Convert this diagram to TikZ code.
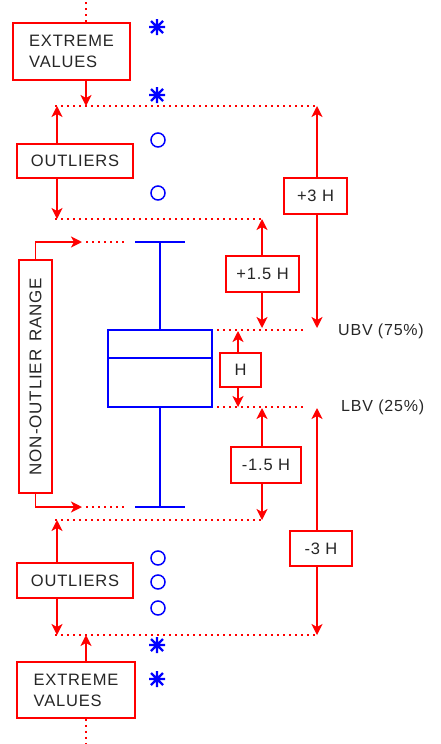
\documentclass[tikz,border=0pt]{standalone}
\usepackage{fontspec}
\setmainfont{Liberation Sans}
\newfontfamily\lbl{Liberation Sans}[LetterSpace=5]
\usetikzlibrary{arrows.meta}
\definecolor{rd}{RGB}{255,0,0}
\definecolor{bl}{RGB}{0,0,255}
\begin{document}
\begin{tikzpicture}[x=1pt,y=-1pt,
 rbox/.style={draw=rd, line width=1.6pt, fill=white, inner sep=0pt, font=\lbl\fontsize{16.5}{21}\selectfont, align=left, text=black!85},
 arr/.style={draw=rd, line width=1.6pt, -{Stealth[length=11pt,width=11pt,inset=3pt]}},
 dots/.style={draw=rd, line width=2pt, dash pattern=on 2pt off 4pt},
 bline/.style={draw=bl, line width=1.6pt},
 circ/.style={circle, draw=bl, line width=1.5pt, minimum size=14pt, inner sep=0pt},
 lbltext/.style={font=\lbl\fontsize{16}{20}\selectfont, text=black!85, anchor=west, inner sep=0pt},
 astr/.pic={\draw[bl, line width=2.4pt] (-8,0)--(8,0) (0,-8)--(0,8) (-6,-6)--(6,6) (-6,6)--(6,-6);}
]
\useasboundingbox (0,0) rectangle (440,744);

% coordinates (line ends)
\coordinate (topEnd) at (86,0);
\coordinate (botEnd) at (86,744);
\coordinate (L1) at (55,106);  \coordinate (R1) at (317,106);
\coordinate (e1tip) at (86,106); \coordinate (o1up) at (57,106);
\coordinate (L2) at (55,219);  \coordinate (R2) at (262,219);
\coordinate (o1dn) at (57,219);
\coordinate (L3) at (55,520);  \coordinate (R3) at (262,520);
\coordinate (o2up) at (57,520);
\coordinate (L4) at (55,635);  \coordinate (R4) at (317,635);
\coordinate (o2dn) at (57,635); \coordinate (e2tip) at (86,635);
\coordinate (ubvL) at (217,330); \coordinate (ubvR) at (305,330);
\coordinate (lbvL) at (217,407); \coordinate (lbvR) at (305,407);
\coordinate (p3dn) at (317,328); \coordinate (p15dn) at (262,328);
\coordinate (hup) at (238,331); \coordinate (hdn) at (238,407);
\coordinate (m15up) at (262,408); \coordinate (m3up) at (317,408);
\coordinate (ntip) at (82,242); \coordinate (btip) at (82,507);
\coordinate (ndL) at (86,242); \coordinate (ndR) at (126,242);
\coordinate (bdL) at (86,507); \coordinate (bdR) at (126,507);
\coordinate (wt) at (160,242); \coordinate (wb) at (160,507);
\coordinate (med) at (160,358);

% dotted reference lines
\draw[dots] (L1) -- (R1);
\draw[dots] (L2) -- (R2);
\draw[dots] (L3) -- (R3);
\draw[dots] (L4) -- (R4);
\draw[dots] (ubvL) -- (ubvR);
\draw[dots] (lbvL) -- (lbvR);
\draw[dots] (ndL) -- (ndR);
\draw[dots] (bdL) -- (bdR);

% red boxes
\node[rbox, minimum width=117pt, minimum height=57pt] (ext1) at (71.5,51.5) {EXTREME\\VALUES};
\node[rbox, minimum width=116pt, minimum height=34pt] (out1) at (75,161) {OUTLIERS};
\node[rbox, minimum width=233pt, minimum height=33pt, rotate=90, align=center, font=\lbl\fontsize{17}{20}\selectfont] (nor) at (35.5,376.5) {NON-OUTLIER\hspace{8pt}RANGE};
\node[rbox, minimum width=116pt, minimum height=35pt] (out2) at (75,580.5) {OUTLIERS};
\node[rbox, minimum width=118pt, minimum height=56pt] (ext2) at (76,690) {EXTREME\\VALUES};
\node[rbox, minimum width=63pt, minimum height=36pt] (p3) at (315.5,196) {+3 H};
\node[rbox, minimum width=73pt, minimum height=36pt] (p15) at (262.5,274) {+1.5 H};
\node[rbox, minimum width=41pt, minimum height=34pt] (hb) at (240.5,370) {H};
\node[rbox, minimum width=70pt, minimum height=36pt] (m15) at (266,465) {-1.5 H};
\node[rbox, minimum width=62pt, minimum height=35pt] (m3) at (321,548.5) {-3 H};

% arrows
\draw[dots] (ext1.north -| topEnd) -- (topEnd);
\draw[dots] (ext2.south -| botEnd) -- (botEnd);
\draw[arr] (ext1.south -| e1tip) -- (e1tip);
\draw[arr] (out1.north -| o1up) -- (o1up);
\draw[arr] (out1.south -| o1dn) -- (o1dn);
\draw[arr] (out2.north -| o2up) -- (o2up);
\draw[arr] (out2.south -| o2dn) -- (o2dn);
\draw[arr] (ext2.north -| e2tip) -- (e2tip);
\draw[arr] (p3.north -| R1) -- (R1);
\draw[arr] (p3.south -| p3dn) -- (p3dn);
\draw[arr] (p15.north -| R2) -- (R2);
\draw[arr] (p15.south -| p15dn) -- (p15dn);
\draw[arr] (hb.north -| hup) -- (hup);
\draw[arr] (hb.south -| hdn) -- (hdn);
\draw[arr] (m15.north -| m15up) -- (m15up);
\draw[arr] (m15.south -| R3) -- (R3);
\draw[arr] (m3.north -| m3up) -- (m3up);
\draw[arr] (m3.south -| R4) -- (R4);
\draw[arr] (nor.east) |- (ntip);
\draw[arr] (nor.west) |- (btip);

% box plot
\node[draw=bl, line width=1.6pt, minimum width=104pt, minimum height=77pt, inner sep=0pt] (bx) at (160,368.5) {};
\draw[bline] (bx.west |- med) -- (bx.east |- med);
\draw[bline] (bx.north) -- (wt);
\draw[bline] (bx.south) -- (wb);
\draw[bline] ([xshift=-25pt]wt) -- ([xshift=25pt]wt);
\draw[bline] ([xshift=-25pt]wb) -- ([xshift=25pt]wb);

% labels
\node[lbltext] (ubv) at (338,331) {UBV (75\%)};
\node[lbltext] (lbv) at (341,407) {LBV (25\%)};

% markers
\pic at (157,27) {astr};
\pic at (157,95) {astr};
\pic at (157,645) {astr};
\pic at (157,679) {astr};
\node[circ] (c1) at (158,140) {};
\node[circ] (c2) at (158,193) {};
\node[circ] (c3) at (158,558) {};
\node[circ] (c4) at (158,582) {};
\node[circ] (c5) at (158,608) {};
\end{tikzpicture}
\end{document}
